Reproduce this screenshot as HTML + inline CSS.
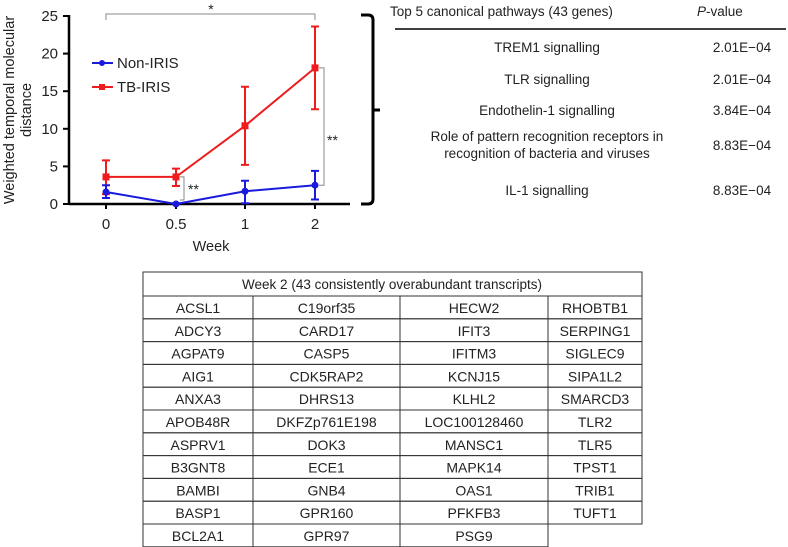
<!DOCTYPE html>
<html><head><meta charset="utf-8"><style>
body{margin:0;background:#fff;width:788px;height:547px;overflow:hidden;font-family:"Liberation Sans",sans-serif}
svg{position:absolute;left:0;top:0}
text{font-family:"Liberation Sans",sans-serif;fill:#222}
</style></head><body>
<svg id="s" width="788" height="547" viewBox="0 0 788 547">
<g id="chart"></g>
<g id="right"></g>
<g id="genes"></g>
</svg>
<script>
const weeks=[0,0.5,1,2];
const weekLabels=["0","0.5","1","2"];
const yTicks=[0,5,10,15,20,25];
const nonIris=[1.6,0,1.7,2.5];
const nonIrisLo=[0.8,0,0.1,0.6];
const nonIrisHi=[2.5,0.1,3.1,4.4];
const tbIris=[3.6,3.6,10.4,18.1];
const tbIrisLo=[1.3,2.4,5.2,12.6];
const tbIrisHi=[5.8,4.7,15.6,23.6];
const pathways=[["TREM1 signalling"],["TLR signalling"],["Endothelin-1 signalling"],["Role of pattern recognition receptors in","recognition of bacteria and viruses"],["IL-1 signalling"]];
const pvalues=["2.01E\u221204","2.01E\u221204","3.84E\u221204","8.83E\u221204","8.83E\u221204"];
const genes=[["ACSL1","C19orf35","HECW2","RHOBTB1"],["ADCY3","CARD17","IFIT3","SERPING1"],["AGPAT9","CASP5","IFITM3","SIGLEC9"],["AIG1","CDK5RAP2","KCNJ15","SIPA1L2"],["ANXA3","DHRS13","KLHL2","SMARCD3"],["APOB48R","DKFZp761E198","LOC100128460","TLR2"],["ASPRV1","DOK3","MANSC1","TLR5"],["B3GNT8","ECE1","MAPK14","TPST1"],["BAMBI","GNB4","OAS1","TRIB1"],["BASP1","GPR160","PFKFB3","TUFT1"],["BCL2A1","GPR97","PSG9",""]];

const NS="http://www.w3.org/2000/svg";
function mk(p,t,a,txt){const e=document.createElementNS(NS,t);for(const k in a)e.setAttribute(k,a[k]);if(txt!==undefined)e.textContent=txt;p.appendChild(e);return e;}
const xPos={0:106,0.5:176,1:245,2:315};
const X=v=>xPos[v];
const Y=v=>204-v*(188/25);
const C=document.getElementById('chart');
let e=mk(C,'line',{x1:69,y1:Y(0),x2:350,y2:Y(0),stroke:'#000','stroke-width':2.5});


e=mk(C,'line',{x1:69,y1:Y(25)-1,x2:69,y2:Y(0)+1,stroke:'#000','stroke-width':2.5});


yTicks.forEach(t=>{
 const l=mk(C,'line',{x1:63,y1:Y(t),x2:69,y2:Y(t),stroke:'#000','stroke-width':2});
 
 
 const tx=mk(C,'text',{x:58,y:Y(t)+5,'text-anchor':'end','font-size':15},String(t));
 
 
});
weeks.forEach((w,i)=>{
 const l=mk(C,'line',{x1:X(w),y1:Y(0),x2:X(w),y2:Y(0)+5,stroke:'#000','stroke-width':2});
 
 
 const tx=mk(C,'text',{x:X(w),y:229,'text-anchor':'middle','font-size':15},weekLabels[i]);
 
 
});
e=mk(C,'text',{x:211,y:251,'text-anchor':'middle','font-size':14.5},'Week');


e=mk(C,'text',{transform:'translate(14,110) rotate(-90)','text-anchor':'middle','font-size':14.5},'Weighted temporal molecular');


e=mk(C,'text',{transform:'translate(31,110) rotate(-90)','text-anchor':'middle','font-size':14.5},'distance');


function series(vals,lo,hi,col,name,marker){
 const g=mk(C,'g',{});
 
 
 const pl=mk(g,'polyline',{points:weeks.map((w,i)=>X(w)+','+Y(vals[i])).join(' '),fill:'none',stroke:col,'stroke-width':2});
 
 
 weeks.forEach((w,i)=>{
  const x=X(w);
  const eb=mk(g,'path',{d:`M${x},${Y(lo[i])}V${Y(hi[i])}M${x-4},${Y(lo[i])}h8M${x-4},${Y(hi[i])}h8`,stroke:col,'stroke-width':2,fill:'none'});
  
  
  const m=marker==='sq'?mk(g,'rect',{x:x-3.5,y:Y(vals[i])-3.5,width:7,height:7,fill:col}):mk(g,'circle',{cx:x,cy:Y(vals[i]),r:3.5,fill:col});
  
  
 });
}
series(tbIris,tbIrisLo,tbIrisHi,'#ee1c1c','tb-iris','sq');
series(nonIris,nonIrisLo,nonIrisHi,'#1a1adc','non-iris','c');
e=mk(C,'g',{});


mk(e,'line',{x1:92,y1:63,x2:113,y2:63,stroke:'#1a1adc','stroke-width':2});mk(e,'circle',{cx:102,cy:63,r:3,fill:'#1a1adc'});
mk(e,'text',{x:117,y:68,'font-size':15},'Non-IRIS');
e=mk(C,'g',{});


mk(e,'line',{x1:92,y1:87,x2:113,y2:87,stroke:'#ee1c1c','stroke-width':2});mk(e,'rect',{x:99,y:84,width:6,height:6,fill:'#ee1c1c'});
mk(e,'text',{x:117,y:92,'font-size':15},'TB-IRIS');
e=mk(C,'path',{d:`M106,20V14H315V20`,stroke:'#888','stroke-width':1,fill:'none'});


e=mk(C,'text',{x:211,y:14,'text-anchor':'middle','font-size':14},'*');


e=mk(C,'path',{d:`M319,${Y(18.1)}H324V${Y(2.5)}H319`,stroke:'#888','stroke-width':1,fill:'none'});


e=mk(C,'text',{x:327,y:145,'font-size':14},'**');


e=mk(C,'path',{d:`M180,${Y(3.6)}H184V${Y(0)-4}H180`,stroke:'#888','stroke-width':1,fill:'none'});


e=mk(C,'text',{x:188,y:194,'font-size':14},'**');


e=mk(C,'path',{d:'M361,15H368Q373,15 373,20V199Q373,204 368,204H361M373,110H380',stroke:'#000','stroke-width':3,fill:'none','stroke-linejoin':'round'});


const R=document.getElementById('right');
e=mk(R,'text',{x:390,y:16,'font-size':13.5},'Top 5 canonical pathways (43 genes)');


e=mk(R,'text',{x:697,y:16,'font-size':13.5});
mk(e,'tspan',{'font-style':'italic'},'P');
mk(e,'tspan',{},'-value');


e=mk(R,'line',{x1:395,y1:29,x2:786,y2:29,stroke:'#000','stroke-width':1.5});


const rowY=[52,84,115,150,195];
pathways.forEach((p,i)=>{
 p.forEach((ln,j)=>{const t=mk(R,'text',{x:547,y:rowY[i]+(p.length>1?(j?8:-9):0),'text-anchor':'middle','font-size':13.5},ln);
 
 });
 const t=mk(R,'text',{x:742,y:rowY[i],'text-anchor':'middle','font-size':13.5},pvalues[i]);
 
 
});
const G=document.getElementById('genes');
const cols=[143,253,400,548,642];const tableTop=272,hh=24,rh=22.8;
e=mk(G,'rect',{x:143,y:tableTop,width:499,height:hh,fill:'none',stroke:'#333','stroke-width':1});


e=mk(G,'text',{x:392,y:tableTop+17,'text-anchor':'middle','font-size':13.5},'Week 2 (43 consistently overabundant transcripts)');


genes.forEach((r,i)=>{
 const y=tableTop+hh+i*rh;
 r.forEach((g,j)=>{
  if(!g)return;
  const c=mk(G,'rect',{x:cols[j],y:y,width:cols[j+1]-cols[j],height:rh,fill:'none',stroke:'#333','stroke-width':1});
  
  
  const t=mk(G,'text',{x:(cols[j]+cols[j+1])/2,y:y+17,'text-anchor':'middle','font-size':14},g);
  
  
 });
});
</script>
</body></html>
